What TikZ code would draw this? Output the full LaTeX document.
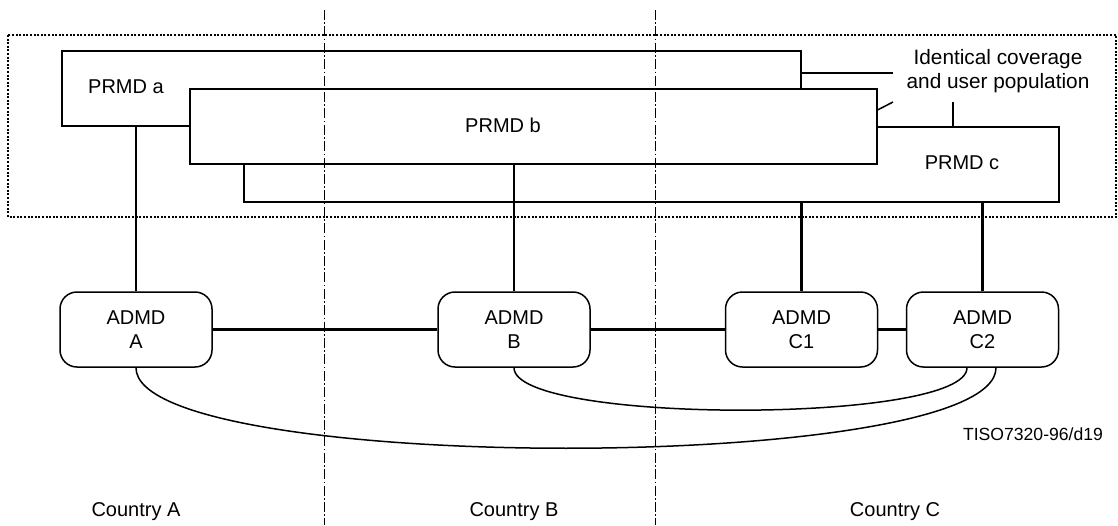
\documentclass[tikz,border=0pt]{standalone}
\usepackage{fontspec}
\setmainfont{Liberation Sans}

\begin{document}
\begin{tikzpicture}[x=0.5pt,y=-0.5pt,font=\fontsize{10}{12}\selectfont]
    \tikzstyle{prmd} = [draw, rectangle, fill=white, line width=0.75pt, anchor=north west, inner sep=0pt, minimum height=37.5pt]
    \tikzstyle{admd} = [draw, rectangle, rounded corners=8.5pt, fill=white, line width=0.75pt, minimum width=76pt, minimum height=37.5pt, align=center]
    \tikzstyle{link} = [line width=1.05pt]
    \tikzstyle{curve} = [line width=0.75pt]
    \tikzstyle{border} = [line width=0.45pt, dash pattern=on 5pt off 1.2pt on 0.8pt off 1.2pt]

    \useasboundingbox (0,0) rectangle (1118,525);

    % area of identical coverage
    \draw[line width=0.55pt, dash pattern=on 1pt off 0.8pt] (8,35) rectangle (1116,217);

    % PRMDs
    \node[prmd, minimum width=369.5pt] (prmda) at (61,50) {};
    \node[prmd, minimum width=407.5pt] (prmdc) at (243,126) {};
    \node[prmd, minimum width=343.5pt] (prmdb) at (189,88) {};
    \node (texta) at (126,87) {PRMD a};
    \node (textb) at (503,125) {PRMD b};
    \node (textc) at (962,163) {PRMD c};

    % ADMDs
    \node[admd] (admdA) at (136,329.5) {ADMD\\A};
    \node[admd] (admdB) at (514,329.5) {ADMD\\B};
    \node[admd] (admdC1) at (801.5,329.5) {ADMD\\C1};
    \node[admd] (admdC2) at (982.5,329.5) {ADMD\\C2};

    % PRMD to ADMD
    \draw[link] (admdA.north) -- (admdA.north |- prmda.south);
    \draw[link] (admdB.north) -- (admdB.north |- prmdb.south);
    \draw[link] (admdC1.north) -- (admdC1.north |- prmdc.south);
    \draw[link] (admdC2.north) -- (admdC2.north |- prmdc.south);

    % ADMD to ADMD
    \draw[link] (admdA) -- (admdB);
    \draw[link] (admdB) -- (admdC1);
    \draw[link] (admdC1) -- (admdC2);
    \draw[curve] (admdA.south) to[out=-90, in=-90, looseness=0.32] ([xshift=6.75pt]admdC2.south);
    \draw[curve] (admdB.south) to[out=-90, in=-90, looseness=0.32] ([xshift=-7.75pt]admdC2.south);

    % note
    \node[align=center, font=\fontsize{10.4}{12}\selectfont] (note) at (998,71) {Identical coverage\\and user population};
    \coordinate (na) at (893,73);
    \coordinate (nb) at (893,102);
    \coordinate (nc) at (953,102);
    \draw[link] (na) -- (na -| prmda.east);
    \draw[curve] (nb) -- ([yshift=-11pt]prmdb.north east);
    \draw[link] (nc) -- (nc |- prmdc.north);

    % countries
    \draw[border] (324,10) -- (324,525);
    \draw[border] (655,10) -- (655,525);
    \node (countryA) at (136,512) {Country A};
    \node (countryB) at (514,512) {Country B};
    \node (countryC) at (895,512) {Country C};

    \node[anchor=east, font=\fontsize{8.8}{10}\selectfont] (ref) at (1110,434) {TISO7320-96/d19};
\end{tikzpicture}
\end{document}
